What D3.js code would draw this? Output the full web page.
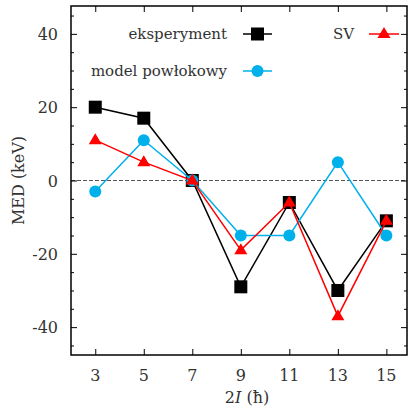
<!DOCTYPE html>
<html>
<head>
<meta charset="utf-8">
<script src="https://cdn.jsdelivr.net/npm/d3@7"></script>
<style>
  html, body { margin: 0; padding: 0; background: #fff; }
  svg { display: block; }
</style>
</head>
<body>
<svg id="chart" width="409" height="409"></svg>
<script>
// Spin values 2I
const spins = [3, 5, 7, 9, 11, 13, 15];
// Mirror energy differences (keV)
const experiment = [20, 17, 0, -29, -6, -30, -11];
const shellModel = [-3, 11, 0, -15, -15, 5, -15];
const svModel = [11, 5, 0, -19, -6, -37, -11];

const yTicks = [-40, -20, 0, 20, 40];
const xTicks = [3, 5, 7, 9, 11, 13, 15];

const seriesNames = ["eksperyment", "model powłokowy", "SV"];
const seriesColors = ["#000000", "#00b0eb", "#ff0000"];

const FONT = "'DejaVu Serif', 'Liberation Serif', serif";
const TEXT_COLOR = "#333";

const svg = d3.select("#chart");
const plotL = 71, plotR = 407, plotT = 6, plotB = 355;

const x = d3.scaleLinear().domain([2, 15.85]).range([plotL, plotR]);
const y = d3.scaleLinear().domain([-47.6, 47.6]).range([plotB, plotT]);

function label(sel) {
  return sel.attr("font-family", FONT).attr("fill", TEXT_COLOR);
}

// zero reference line
svg.append("line")
  .attr("x1", plotL).attr("x2", plotR)
  .attr("y1", y(0)).attr("y2", y(0))
  .attr("stroke", "#555").attr("stroke-width", 1)
  .attr("stroke-dasharray", "4,2");

// axes with inward ticks on all four sides
const minorY = d3.range(-45, 46, 5).filter(v => !yTicks.includes(v));
function drawAxis(g, axisGen) {
  g.call(axisGen);
  g.select(".domain").remove();
  g.selectAll("line").attr("stroke", "#000");
}
drawAxis(svg.append("g").attr("transform", `translate(${plotL},0)`),
  d3.axisRight(y).tickValues(yTicks).tickSize(6).tickFormat(""));
drawAxis(svg.append("g").attr("transform", `translate(${plotL},0)`),
  d3.axisRight(y).tickValues(minorY).tickSize(3).tickFormat(""));
drawAxis(svg.append("g").attr("transform", `translate(${plotR},0)`),
  d3.axisLeft(y).tickValues(yTicks).tickSize(6).tickFormat(""));
drawAxis(svg.append("g").attr("transform", `translate(${plotR},0)`),
  d3.axisLeft(y).tickValues(minorY).tickSize(3).tickFormat(""));
drawAxis(svg.append("g").attr("transform", `translate(0,${plotB})`),
  d3.axisTop(x).tickValues(xTicks).tickSize(6).tickFormat(""));
drawAxis(svg.append("g").attr("transform", `translate(0,${plotT})`),
  d3.axisBottom(x).tickValues(xTicks).tickSize(6).tickFormat(""));

// tick labels
svg.append("g").selectAll("text").data(yTicks).join("text")
  .call(label)
  .attr("x", 58).attr("y", d => y(d) + 6)
  .attr("text-anchor", "end").attr("font-size", 16)
  .text(d => d < 0 ? "-" + Math.abs(d) : d);
svg.append("g").selectAll("text").data(xTicks).join("text")
  .call(label)
  .attr("x", d => x(d)).attr("y", 381)
  .attr("text-anchor", "middle").attr("font-size", 16)
  .text(d => d);

// axis titles
svg.append("text").call(label)
  .attr("transform", `translate(24,${y(0)}) rotate(-90)`)
  .attr("text-anchor", "middle").attr("font-size", 16)
  .text("MED (keV)");
const xt = svg.append("text").call(label)
  .attr("x", 247).attr("y", 403)
  .attr("text-anchor", "middle").attr("font-size", 16);
xt.append("tspan").text("2");
xt.append("tspan").attr("font-style", "italic").text("I");
xt.append("tspan").text(" (ħ)");

// frame
svg.append("rect")
  .attr("x", plotL).attr("y", plotT)
  .attr("width", plotR - plotL).attr("height", plotB - plotT)
  .attr("fill", "none").attr("stroke", "#000").attr("stroke-width", 1.5);

// markers
function marker(g, kind, color, cx, cy) {
  if (kind === 0) {
    g.append("rect").attr("x", cx - 6.5).attr("y", cy - 6.5)
      .attr("width", 13).attr("height", 13).attr("fill", color);
  } else if (kind === 1) {
    g.append("circle").attr("cx", cx).attr("cy", cy).attr("r", 6).attr("fill", color);
  } else {
    g.append("path")
      .attr("d", `M${cx},${cy - 7}L${cx + 6.5},${cy + 4}L${cx - 6.5},${cy + 4}Z`)
      .attr("fill", color);
  }
}

const allSeries = [experiment, shellModel, svModel];
const line = d3.line().x((d, i) => x(spins[i])).y(d => y(d));
allSeries.forEach((vals, k) => {
  const g = svg.append("g");
  g.append("path").datum(vals)
    .attr("d", line).attr("fill", "none")
    .attr("stroke", seriesColors[k]).attr("stroke-width", 1.5);
  vals.forEach((v, i) => marker(g, k, seriesColors[k], x(spins[i]), y(v)));
});

// legend
const legendItems = [
  { k: 0, tx: 227, ly: 34, lx1: 243, lx2: 272 },
  { k: 1, tx: 227, ly: 71, lx1: 243, lx2: 272 },
  { k: 2, tx: 354, ly: 34, lx1: 369, lx2: 399 }
];
legendItems.forEach(it => {
  const g = svg.append("g");
  g.append("text").call(label)
    .attr("x", it.tx).attr("y", it.ly + 5)
    .attr("text-anchor", "end").attr("font-size", 15)
    .text(seriesNames[it.k]);
  g.append("line").attr("x1", it.lx1).attr("x2", it.lx2)
    .attr("y1", it.ly).attr("y2", it.ly)
    .attr("stroke", seriesColors[it.k]).attr("stroke-width", 1.5);
  marker(g, it.k, seriesColors[it.k], (it.lx1 + it.lx2) / 2, it.ly);
});
</script>
</body>
</html>
